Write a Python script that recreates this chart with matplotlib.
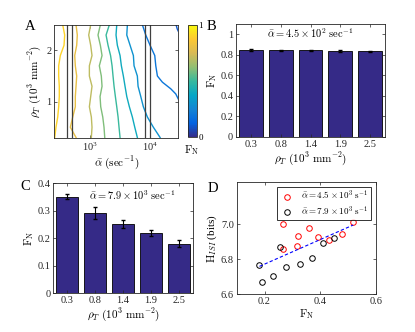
import numpy as np
import matplotlib.pyplot as plt
from matplotlib.colors import LinearSegmentedColormap, Normalize
from matplotlib.colorbar import ColorbarBase

plt.rcParams['font.family'] = 'serif'
plt.rcParams['font.serif'] = ['Liberation Serif', 'DejaVu Serif']
plt.rcParams['mathtext.fontset'] = 'cm'
plt.rcParams['axes.linewidth'] = 0.6
plt.rcParams['axes.edgecolor'] = '#262626'

# parula-like colormap (a few anchors of the MATLAB map)
parula = [(0.2081, 0.1663, 0.5292), (0.0117, 0.3875, 0.8820), (0.0793, 0.5200, 0.8312),
          (0.0228, 0.6535, 0.7768), (0.2178, 0.7250, 0.6193), (0.5709, 0.7485, 0.4494),
          (0.8507, 0.7299, 0.3360), (0.9955, 0.7861, 0.1967), (0.9763, 0.9831, 0.0538)]
cmap = LinearSegmentedColormap.from_list('parula', parula)

# ---- panel A: contour lines of F_N, log10(alpha) read at each rho_T
rho = [2.5, 2.3, 2.1, 1.9, 1.7, 1.5, 1.3, 1.1, 0.9, 0.7, 0.5, 0.3]
c09 = [2.545, 2.578, 2.567, 2.505, 2.478, 2.478, 2.488, 2.488, 2.478, 2.462, 2.433, 2.412]
c08 = [2.767, 2.788, 2.778, 2.745, 2.755, 2.778, 2.767, 2.755, 2.755, 2.712, 2.672, 2.767]
c07 = [3.011, 2.978, 3.011, 3.033, 2.989, 2.989, 3.033, 3.011, 2.989, 3.022, 3.033, 3.022]
c06 = [3.172, 3.133, 3.172, 3.200, 3.155, 3.188, 3.200, 3.167, 3.178, 3.212, 3.233, 3.245]
c05 = [3.322, 3.267, 3.300, 3.342, 3.367, 3.383, 3.400, 3.422, 3.445, 3.467, 3.483, 3.500]
c04 = [3.445, 3.433, 3.455, 3.500, 3.522, 3.555, 3.583, 3.612, 3.655, 3.705, 3.745, 3.788]
c03 = [3.622, 3.612, 3.667, 3.722, 3.733, 3.788, 3.800, 3.845, 3.888, 3.955, 4.055, 4.167]
rho02 = [2.5, 2.3, 2.1, 1.9, 1.7, 1.5, 1.38, 1.25, 1.15, 1.02]
c02 = [3.872, 3.928, 4.000, 4.078, 4.095, 4.122, 4.205, 4.345, 4.428, 4.483]
rho01 = [2.5, 2.42, 2.35]
c01 = [4.433, 4.452, 4.48]
alpha_marks = [410, 510, 8200, 10000]

# ---- panels B, C
rho_labels = ['0.3', '0.8', '1.4', '1.9', '2.5']
fn_b = [0.848, 0.843, 0.843, 0.838, 0.835]
err_b = [0.006, 0.005, 0.005, 0.006, 0.006]
fn_c = [0.352, 0.293, 0.251, 0.219, 0.181]
err_c = [0.008, 0.021, 0.014, 0.010, 0.013]

# ---- panel D
fn_red = [0.266, 0.266, 0.321, 0.359, 0.317, 0.394, 0.431, 0.480, 0.519]
h_red = [7.000, 6.859, 6.935, 6.975, 6.876, 6.928, 6.912, 6.941, 7.011]
fn_blk = [0.256, 0.182, 0.190, 0.232, 0.278, 0.328, 0.371, 0.412, 0.449]
h_blk = [6.869, 6.766, 6.672, 6.707, 6.756, 6.771, 6.806, 6.890, 6.922]
fit_slope, fit_icpt = 0.699, 6.632

W, H = 415, 332
fig = plt.figure(figsize=(W / 100, H / 100), dpi=100)

def box(l, t, r, b):
    return [l / W, 1 - b / H, (r - l) / W, (b - t) / H]

def style(ax):
    ax.tick_params(direction='in', top=True, right=True, length=2.5, width=0.5,
                   labelsize=7.5, pad=2, colors='#262626')

# A
axA = fig.add_axes(box(54, 24.8, 178.3, 137.5))
lines = [(c09, rho, 0.9), (c08, rho, 0.8), (c07, rho, 0.7), (c06, rho, 0.6),
         (c05, rho, 0.5), (c04, rho, 0.4), (c03, rho, 0.3), (c02, rho02, 0.2),
         (c01, rho01, 0.1)]
for la, rr, lev in lines:
    axA.plot(10 ** np.array(la), rr, color=cmap(lev), lw=1.0)
for a in alpha_marks:
    axA.axvline(a, color='#404040', lw=0.9)
axA.set_xscale('log')
axA.set_xlim(10 ** 2.4, 10 ** 4.47)
axA.set_ylim(0.3, 2.5)
axA.set_xticks([1e3, 1e4])
axA.minorticks_off()
axA.set_yticks([1, 2])
style(axA)
axA.set_xlabel(r'$\bar{\alpha}\ (\mathrm{sec}^{-1})$', fontsize=8, labelpad=1)
axA.set_ylabel(r'$\rho_T\ (10^3\ \mathrm{mm}^{-2})$', fontsize=8, labelpad=2)

cax = fig.add_axes(box(188, 24.8, 197, 137.3))
cb = ColorbarBase(cax, cmap=cmap, norm=Normalize(0, 1), ticks=[0, 1])
cb.outline.set_linewidth(0.6)
cax.tick_params(labelsize=6.5, length=0, pad=1)
fig.text(192 / W, 1 - 150 / H, r'$\mathrm{F_N}$', fontsize=8, ha='center', va='center')

# B
x = np.arange(1, 6)
axB = fig.add_axes(box(236, 24, 385, 137))
axB.bar(x, fn_b, width=0.8, color=parula[0], edgecolor='k', lw=0.6)
axB.errorbar(x, fn_b, yerr=err_b, fmt='none', ecolor='k', elinewidth=0.8, capsize=1.3)
axB.set_xlim(0.5, 5.5)
axB.set_ylim(0, 1.1)
axB.set_xticks(x, rho_labels)
axB.set_yticks([0, 0.2, 0.4, 0.6, 0.8, 1])
axB.set_yticklabels(['0', '0.2', '0.4', '0.6', '0.8', '1'])
style(axB)
axB.set_xlabel(r'$\rho_T\ (10^3\ \mathrm{mm}^{-2})$', fontsize=8, labelpad=1)
axB.set_ylabel(r'$\mathrm{F_N}$', fontsize=8, labelpad=1)
axB.text(0.5, 0.918, r'$\bar{\alpha} = 4.5 \times 10^2\ \mathrm{sec}^{-1}$', transform=axB.transAxes,
         fontsize=7.5, ha='center', va='center')

# C
axC = fig.add_axes(box(53.3, 183.3, 192.7, 293.3))
axC.bar(x, fn_c, width=0.8, color=parula[0], edgecolor='k', lw=0.6)
axC.errorbar(x, fn_c, yerr=err_c, fmt='none', ecolor='k', elinewidth=0.8, capsize=1.3)
axC.set_xlim(0.5, 5.5)
axC.set_ylim(0, 0.4)
axC.set_xticks(x, rho_labels)
axC.set_yticks([0, 0.1, 0.2, 0.3, 0.4])
axC.set_yticklabels(['0', '0.1', '0.2', '0.3', '0.4'])
style(axC)
axC.set_xlabel(r'$\rho_T\ (10^3\ \mathrm{mm}^{-2})$', fontsize=8, labelpad=1)
axC.set_ylabel(r'$\mathrm{F_N}$', fontsize=8, labelpad=1)
axC.text(0.568, 0.894, r'$\bar{\alpha} = 7.9 \times 10^3\ \mathrm{sec}^{-1}$', transform=axC.transAxes,
         fontsize=7.5, ha='center', va='center')

# D
axD = fig.add_axes(box(236.7, 182, 375.7, 294.3))
axD.plot(fn_red, h_red, 'o', mfc='none', mec='r', ms=4, mew=0.7,
         label=r'$\bar{\alpha} = 4.5 \times 10^3\ \mathrm{s}^{-1}$')
axD.plot(fn_blk, h_blk, 'o', mfc='none', mec='k', ms=4, mew=0.7,
         label=r'$\bar{\alpha} = 7.9 \times 10^3\ \mathrm{s}^{-1}$')
xf = np.array([min(fn_red + fn_blk), max(fn_red + fn_blk)])
axD.plot(xf, fit_slope * xf + fit_icpt, '--', color='b', lw=0.8, dashes=(3, 2))
axD.set_xlim(0.1, 0.6)
axD.set_ylim(6.6, 7.24)
axD.set_xticks([0.2, 0.4, 0.6])
axD.set_yticks([6.6, 6.8, 7.0])
axD.set_yticklabels(['6.6', '6.8', '7.0'])
style(axD)
axD.set_xlabel(r'$\mathrm{F_N}$', fontsize=8, labelpad=1)
axD.set_ylabel(r'$\mathrm{H}_{ISI}$ (bits)', fontsize=8, labelpad=1)
leg = axD.legend(loc='upper right', fontsize=6.5, frameon=True, fancybox=False,
                 borderpad=0.3, handletextpad=0.8, labelspacing=0.2, handlelength=1.6,
                 borderaxespad=0.5)
leg.get_frame().set_edgecolor('k')
leg.get_frame().set_linewidth(0.7)

for lab, (px, py) in zip('ABCD', [(30, 27), (211, 27), (25, 186), (213, 188)]):
    fig.text(px / W, 1 - py / H, lab, fontsize=10.5, ha='center', va='center')

fig.savefig('out.png', dpi=100)
